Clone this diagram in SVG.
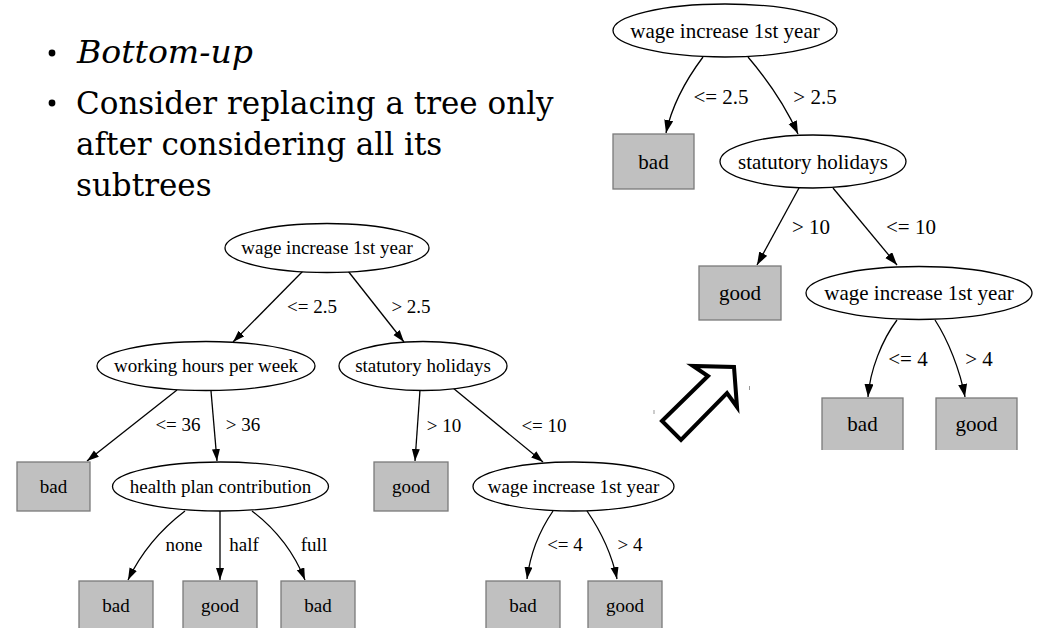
<svg xmlns="http://www.w3.org/2000/svg" width="1041" height="628" viewBox="0 0 1041 628">
  <style>
    .bul { font-family: "DejaVu Serif", serif; font-size: 31px; fill: #000; }
    .t19 { font-family: "Liberation Serif", "Times New Roman", serif; font-size: 19px; fill: #000; text-anchor: middle; }
    .t21 { font-family: "Liberation Serif", "Times New Roman", serif; font-size: 21px; fill: #000; text-anchor: middle; }
    .ell { fill: #fff; stroke: #000; stroke-width: 1.3; }
    .box { fill: #c0c0c0; stroke: #7a7a7a; stroke-width: 1.3; }
    .edge { fill: none; stroke: #000; stroke-width: 1.3; }
    .e1 { marker-end: url(#ah1); }
    .e2 { marker-end: url(#ah2); }
  </style>
  <defs>
    <marker id="ah1" markerUnits="userSpaceOnUse" markerWidth="13" markerHeight="9" refX="12" refY="4" orient="auto">
      <path d="M0,0 L12,4 L0,8 z" fill="#000"/>
    </marker>
    <marker id="ah2" markerUnits="userSpaceOnUse" markerWidth="14" markerHeight="10" refX="13" refY="4.5" orient="auto">
      <path d="M0,0 L13,4.5 L0,9 z" fill="#000"/>
    </marker>
    <clipPath id="rightClip">
      <rect x="590" y="0" width="451" height="450"/>
    </clipPath>
  </defs>

  <rect x="0" y="0" width="1041" height="628" fill="#fff"/>

  <!-- bullet list -->
  <g id="bullets">
    <circle cx="52" cy="53" r="3.4" fill="#000"/>
    <text class="bul" x="77" y="63" font-style="italic" textLength="176" lengthAdjust="spacingAndGlyphs">Bottom-up</text>
    <circle cx="52" cy="103" r="3.4" fill="#000"/>
    <text class="bul" x="76" y="114">Consider replacing a tree only</text>
    <text class="bul" x="76" y="155">after considering all its</text>
    <text class="bul" x="76" y="196">subtrees</text>
  </g>

  <!-- ===== full tree (left) ===== -->
  <g id="left-edges">
    <path class="edge e1" d="M303,271 L233,342"/>
    <path class="edge e1" d="M348,271 L404,342"/>
    <path class="edge e1" d="M177,390 L87,461"/>
    <path class="edge e1" d="M211,391 L217,461"/>
    <path class="edge e1" d="M420,390 L415,461"/>
    <path class="edge e1" d="M453,388 L543,462"/>
    <path class="edge e1" d="M185,511 C160,530 140,555 128,580"/>
    <path class="edge e1" d="M220,511 L220,580"/>
    <path class="edge e1" d="M252,511 C277,530 295,555 305,580"/>
    <path class="edge e1" d="M553,511 C540,530 530,555 527,579"/>
    <path class="edge e1" d="M587,511 C600,530 612,555 617,579"/>
  </g>
  <g id="left-edge-labels">
    <text class="t19" x="312" y="313">&lt;= 2.5</text>
    <text class="t19" x="411" y="313">&gt; 2.5</text>
    <text class="t19" x="178" y="431">&lt;= 36</text>
    <text class="t19" x="243" y="431">&gt; 36</text>
    <text class="t19" x="444" y="432">&gt; 10</text>
    <text class="t19" x="544" y="432">&lt;= 10</text>
    <text class="t19" x="184" y="551">none</text>
    <text class="t19" x="244" y="551">half</text>
    <text class="t19" x="314" y="551">full</text>
    <text class="t19" x="565" y="551">&lt;= 4</text>
    <text class="t19" x="630" y="551">&gt; 4</text>
  </g>

  <g id="L-root">
    <ellipse class="ell" cx="327" cy="248" rx="102" ry="24.5"/>
    <text class="t19" x="327" y="254">wage increase 1st year</text>
  </g>
  <g id="L-hours">
    <ellipse class="ell" cx="206" cy="366" rx="109" ry="24.5"/>
    <text class="t19" x="206" y="372">working hours per week</text>
  </g>
  <g id="L-holidays">
    <ellipse class="ell" cx="423" cy="366" rx="84" ry="24.5"/>
    <text class="t19" x="423" y="372">statutory holidays</text>
  </g>
  <g id="L-bad1">
    <rect class="box" x="17" y="462" width="73" height="49"/>
    <text class="t19" x="53.5" y="493">bad</text>
  </g>
  <g id="L-health">
    <ellipse class="ell" cx="220.5" cy="486.5" rx="108" ry="24.5"/>
    <text class="t19" x="220.5" y="493">health plan contribution</text>
  </g>
  <g id="L-good1">
    <rect class="box" x="374" y="462" width="74" height="49"/>
    <text class="t19" x="411" y="493">good</text>
  </g>
  <g id="L-wage2">
    <ellipse class="ell" cx="573.5" cy="486.5" rx="100.5" ry="24.5"/>
    <text class="t19" x="573.5" y="493">wage increase 1st year</text>
  </g>
  <g id="L-bad2">
    <rect class="box" x="79" y="581" width="74" height="49"/>
    <text class="t19" x="116" y="612">bad</text>
  </g>
  <g id="L-good2">
    <rect class="box" x="183" y="581" width="74" height="49"/>
    <text class="t19" x="220" y="612">good</text>
  </g>
  <g id="L-bad3">
    <rect class="box" x="281" y="581" width="74" height="49"/>
    <text class="t19" x="318" y="612">bad</text>
  </g>
  <g id="L-bad4">
    <rect class="box" x="486" y="581" width="74" height="49"/>
    <text class="t19" x="523" y="612">bad</text>
  </g>
  <g id="L-good3">
    <rect class="box" x="588" y="581" width="74" height="49"/>
    <text class="t19" x="625" y="612">good</text>
  </g>

  <!-- hollow arrow between the two trees -->
  <g id="replace-arrow">
    <polygon points="662,421 708,376 693,366 734,367 737,407 727,393 681,440" fill="#fff" stroke="#000" stroke-width="4" stroke-linejoin="miter"/>
    <line x1="654" y1="410" x2="654" y2="414" stroke="#999" stroke-width="1"/>
    <line x1="749.5" y1="386" x2="749.5" y2="390" stroke="#999" stroke-width="1"/>
  </g>

  <!-- ===== pruned tree (right) ===== -->
  <g clip-path="url(#rightClip)">
    <g id="right-edges">
      <path class="edge e2" d="M703,57 C688,77 672,105 666,133"/>
      <path class="edge e2" d="M748,57 C765,77 785,105 798,134"/>
      <path class="edge e2" d="M799,188 L757,265"/>
      <path class="edge e2" d="M833,188 L897,265"/>
      <path class="edge e2" d="M897,320 C882,340 870,370 868,397"/>
      <path class="edge e2" d="M935,320 C948,340 960,370 965,397"/>
    </g>
    <g id="right-edge-labels">
      <text class="t21" x="721" y="104">&lt;= 2.5</text>
      <text class="t21" x="815" y="104">&gt; 2.5</text>
      <text class="t21" x="811" y="234">&gt; 10</text>
      <text class="t21" x="911" y="234">&lt;= 10</text>
      <text class="t21" x="908" y="366">&lt;= 4</text>
      <text class="t21" x="979" y="366">&gt; 4</text>
    </g>

    <g id="R-root">
      <ellipse class="ell" cx="725" cy="30.5" rx="112" ry="26.5"/>
      <text class="t21" x="725" y="37.5">wage increase 1st year</text>
    </g>
    <g id="R-bad1">
      <rect class="box" x="613" y="134" width="81" height="55"/>
      <text class="t21" x="653.5" y="168.5">bad</text>
    </g>
    <g id="R-holidays">
      <ellipse class="ell" cx="813" cy="161.5" rx="93" ry="26.5"/>
      <text class="t21" x="813" y="168.5">statutory holidays</text>
    </g>
    <g id="R-good1">
      <rect class="box" x="699" y="266" width="82" height="54"/>
      <text class="t21" x="740" y="300">good</text>
    </g>
    <g id="R-wage2">
      <ellipse class="ell" cx="919" cy="293" rx="113" ry="26.5"/>
      <text class="t21" x="919" y="300">wage increase 1st year</text>
    </g>
    <g id="R-bad2">
      <rect class="box" x="822" y="398" width="81" height="55"/>
      <text class="t21" x="862.5" y="431">bad</text>
    </g>
    <g id="R-good2">
      <rect class="box" x="936" y="398" width="81" height="55"/>
      <text class="t21" x="976.5" y="431">good</text>
    </g>
  </g>
</svg>
